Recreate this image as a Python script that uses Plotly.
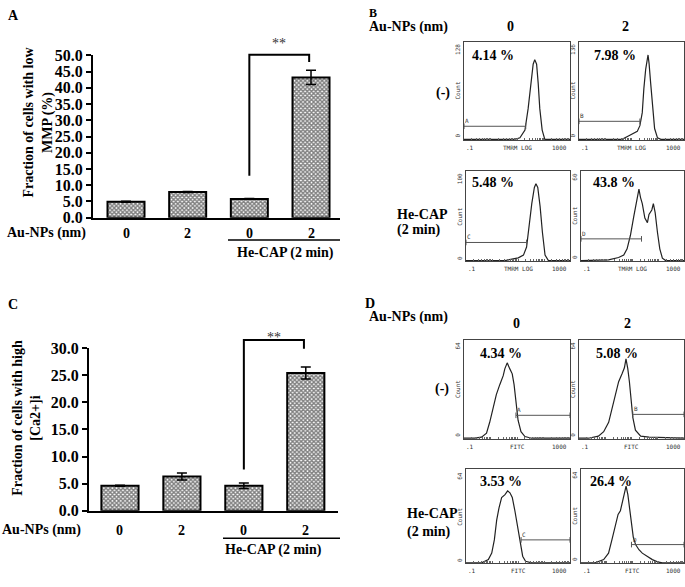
import plotly.graph_objects as go

W, H = 685, 587
SERIF = "Liberation Serif"
MONO = "DejaVu Sans Mono"

# ---------------- data: bar panels ----------------
group_labels = ["0", "2", "0", "2"]
a_values = [4.9, 7.9, 5.8, 43.2]
a_errors = [0.15, 0.15, 0.1, 2.2]
a_yticks = [0, 5, 10, 15, 20, 25, 30, 35, 40, 45, 50]
c_values = [4.6, 6.3, 4.6, 25.4]
c_errors = [0.1, 0.65, 0.5, 1.1]
c_yticks = [0, 5, 10, 15, 20, 25, 30]

# ---------------- data: flow histograms (log10 fluorescence, counts) ----------------
b_ctrl_0_log = [-1, 0.92, 1.11, 1.30, 1.42, 1.52, 1.61, 1.67, 1.74, 1.80, 1.86, 1.95, 2.05, 3.0]
b_ctrl_0_cnt = [1, 1, 3, 13, 41, 74, 99, 105, 99, 74, 41, 13, 1, 1]
b_ctrl_2_log = [-1, 0.64, 0.90, 1.09, 1.22, 1.32, 1.41, 1.47, 1.54, 1.63, 1.67, 1.73, 1.79, 1.88, 1.99, 2.12, 3.0]
b_ctrl_2_cnt = [1, 1, 6, 9, 12, 20, 38, 71, 98, 118, 106, 79, 48, 16, 3, 1, 1]
b_cap_0_log = [-1, 0.5, 1.01, 1.21, 1.33, 1.42, 1.53, 1.63, 1.69, 1.76, 1.85, 1.94, 2.04, 2.17, 3.0]
b_cap_0_cnt = [1, 1, 4, 7, 16, 39, 64, 82, 86, 82, 61, 32, 7, 1, 1]
b_cap_2_log = [-1, 0.07, 0.46, 0.66, 0.79, 0.92, 1.05, 1.18, 1.25, 1.31, 1.38, 1.48, 1.58, 1.64,
               1.75, 1.81, 1.88, 1.97, 2.06, 2.16, 2.29, 3.0]
b_cap_2_cnt = [0.5, 1, 2.6, 4.2, 8.4, 17.4, 30, 42.6, 48, 42.6, 38.4, 28.8, 25.8, 31.2,
               34.2, 38.4, 32.4, 19.2, 8.4, 2.2, 0.6, 0.6]
d_ctrl_0_log = [-1, -0.60, -0.34, -0.15, -0.03, 0.10, 0.22, 0.35, 0.48, 0.54, 0.63, 0.73, 0.82,
                0.89, 0.96, 1.04, 1.15, 1.30, 1.55, 3.0]
d_ctrl_0_cnt = [0.6, 0.6, 1.3, 3.8, 10.9, 20.5, 28.8, 35.2, 41, 45.4, 49.3, 45.4, 42.2,
                35.2, 23.7, 12.2, 4.8, 1.7, 0.6, 0.6]
d_ctrl_2_log = [-1, -0.64, -0.26, -0.06, 0.13, 0.26, 0.38, 0.51, 0.64, 0.73, 0.79, 0.86, 0.92,
                0.99, 1.05, 1.15, 1.35, 1.67, 3.0]
d_ctrl_2_cnt = [0.6, 0.6, 1.9, 4.8, 10.9, 20.5, 29.4, 37.1, 42.2, 46.1, 51.8, 45.4, 37.1,
                24.3, 14.1, 5.8, 1.9, 1.3, 0.6]
d_cap_0_log = [-1, -0.40, -0.14, -0.01, 0.09, 0.18, 0.27, 0.37, 0.50, 0.60, 0.69, 0.78, 0.88,
               0.99, 1.08, 1.18, 1.29, 1.53, 3.0]
d_cap_0_cnt = [0.4, 0.4, 2.6, 7, 16, 29.4, 37.8, 44.8, 46.7, 49.3, 48, 44.8, 35.8,
               25, 13.4, 4.9, 1.5, 0.4, 0.4]
d_cap_2_log = [-1, -0.45, -0.12, 0.07, 0.20, 0.31, 0.44, 0.53, 0.62, 0.70, 0.75, 0.82, 0.88,
               0.95, 1.03, 1.12, 1.25, 1.38, 1.58, 1.77, 1.97, 2.16, 3.0]
d_cap_2_cnt = [0.4, 0.4, 2.6, 7, 16, 25, 33.3, 35.8, 42.2, 48, 52.5, 46.7, 37.8,
               26.9, 17.9, 12.8, 9.3, 7, 4.9, 2.6, 1.1, 0.4, 0.4]

hist_ymax = [128, 136, 100, 60, 64, 64, 64, 64]
hist_percent = ["4.14 %", "7.98 %", "5.48 %", "43.8 %", "4.34 %", "5.08 %", "3.53 %", "26.4 %"]
# gate markers: start log10, end log10, count level
gate_start = [-1, -1, -1, -1, 0.96, 1.05, 1.12, 0.96]
gate_end = [1.33, 1.32, 1.33, 1.35, 3.0, 3.0, 3.0, 3.0]
gate_level = [18, 26, 21, 15, 15.4, 16, 16, 12.8]
gate_names = ["A", "B", "C", "D", "A", "B", "C", "D"]
hist_xtitle = ["TMRM LOG"] * 4 + ["FITC"] * 4

hist_logs = [b_ctrl_0_log, b_ctrl_2_log, b_cap_0_log, b_cap_2_log,
             d_ctrl_0_log, d_ctrl_2_log, d_cap_0_log, d_cap_2_log]
hist_cnts = [b_ctrl_0_cnt, b_ctrl_2_cnt, b_cap_0_cnt, b_cap_2_cnt,
             d_ctrl_0_cnt, d_ctrl_2_cnt, d_cap_0_cnt, d_cap_2_cnt]

# ---------------- layout geometry (pixels) ----------------
def pxx(x):
    return x / W

def pxy(y):
    return 1 - y / H

A_XR, A_YR = [-0.535, 3.47], [0, 50]
A_XD, A_YD = [pxx(93), pxx(340)], [pxy(216), pxy(48.7)]
C_XR, C_YR = [-0.5, 3.52], [0, 30]
C_XD, C_YD = [pxx(89), pxx(338)], [pxy(517.7), pxy(350.3)]

hist_boxes = [(464, 570, 35, 136), (579, 684, 35, 136), (466, 570, 168, 261), (581, 684, 168, 261),
              (464, 570, 342, 444), (579, 684, 342, 444), (466, 570, 475, 572), (581, 684, 475, 572)]


def lin(v, r, d):
    return d[0] + (v - r[0]) / (r[1] - r[0]) * (d[1] - d[0])


fig = go.Figure()
bold = dict(family=SERIF, size=14, color="black", weight="bold")
annotations = []
shapes = []

# ---------------- bar panels ----------------
pattern = dict(shape="x", size=3, solidity=0.7, fgcolor="black", bgcolor="white")
for vals, errs, ax in [(a_values, a_errors, ""), (c_values, c_errors, "2")]:
    fig.add_trace(go.Bar(
        x=list(range(len(vals))), y=vals, width=0.6,
        marker=dict(color="white", pattern=pattern, line=dict(color="black", width=2)),
        error_y=dict(type="data", array=errs, color="black", thickness=1.5, width=5),
        xaxis="x" + ax, yaxis="y" + ax, showlegend=False, hoverinfo="skip"))

layout_axes = {}
for ax, xr, yr, xd, yd, ticks in [("", A_XR, A_YR, A_XD, A_YD, a_yticks),
                                  ("2", C_XR, C_YR, C_XD, C_YD, c_yticks)]:
    layout_axes["xaxis" + ax] = dict(domain=xd, range=xr, showline=True, linecolor="black", linewidth=2,
                                     showticklabels=False, ticks="", showgrid=False, zeroline=False,
                                     anchor="y" + ax, fixedrange=True)
    layout_axes["yaxis" + ax] = dict(domain=yd, range=yr, showline=True, linecolor="black", linewidth=2,
                                     ticks="outside", ticklen=5, tickwidth=2, tickcolor="black",
                                     tickvals=ticks, tickformat=".1f", tickfont=dict(family=SERIF, size=16,
                                     color="black", weight="bold"), showgrid=False, zeroline=False,
                                     anchor="x" + ax, fixedrange=True)

# x-category labels and group annotations
for ax, ylab, yline, ycap, xline0, capx in [("", 232, 239, 252, 228, 285), ("2", 538, 546, 558, 223, 273)]:
    for i, g in enumerate(group_labels):
        annotations.append(dict(x=i, xref="x" + ax, y=pxy(ylab), yref="paper", text=g, showarrow=False,
                                font=bold, xanchor="center", yanchor="middle"))
    shapes.append(dict(type="line", xref="paper", yref="paper", x0=pxx(xline0), x1=pxx(340),
                       y0=pxy(yline), y1=pxy(yline), line=dict(color="black", width=1.5)))
    annotations.append(dict(x=pxx(capx), y=pxy(ycap), xref="paper", yref="paper", text="He-CAP (2 min)",
                            showarrow=False, font=bold, xanchor="center", yanchor="middle"))

annotations.append(dict(x=pxx(5), y=pxy(232), xref="paper", yref="paper", text="Au-NPs (nm)",
                        showarrow=False, font=bold, xanchor="left", yanchor="middle"))
annotations.append(dict(x=pxx(0), y=pxy(538), xref="paper", yref="paper", text="Au-NPs (nm)",
                        showarrow=False, font=bold, xanchor="left", yanchor="middle"))

# y titles
annotations.append(dict(x=pxx(38), y=pxy(118), xref="paper", yref="paper",
                        text="Fraction of cells with low<br>MMP (%)", showarrow=False, font=bold,
                        textangle=-90, xanchor="center", yanchor="middle"))
annotations.append(dict(x=pxx(27), y=pxy(422), xref="paper", yref="paper",
                        text="Fraction of cells with high<br>[Ca2+]i", showarrow=False, font=bold,
                        textangle=-90, xanchor="center", yanchor="middle"))

# significance brackets
for xr, yr, xd, yd, ylow, ytop, yright, ystar in [(A_XR, A_YR, A_XD, A_YD, 12.9, 50.2, 47.9, 37),
                                                  (C_XR, C_YR, C_XD, C_YD, 7.6, 31.5, 29.9, 339)]:
    x0, x1 = lin(2, xr, xd), lin(2.97, xr, xd)
    path = "M {:.5f} {:.5f} L {:.5f} {:.5f} L {:.5f} {:.5f} L {:.5f} {:.5f}".format(
        x0, lin(ylow, yr, yd), x0, lin(ytop, yr, yd), x1, lin(ytop, yr, yd), x1, lin(yright, yr, yd))
    shapes.append(dict(type="path", xref="paper", yref="paper", path=path,
                       line=dict(color="black", width=2)))
    annotations.append(dict(x=(x0 + x1) / 2, y=pxy(ystar), xref="paper", yref="paper", text="**",
                            showarrow=False, font=dict(family=SERIF, size=14, color="#333"),
                            xanchor="center", yanchor="middle"))

# ---------------- histogram panels ----------------
minor = []
for dec in [0.1, 1, 10, 100]:
    minor += [dec * k for k in range(1, 10)]
minor.append(1000)

small = dict(family=MONO, size=6, color="#333")
pct_pos = [(470, 49), (592, 49), (470, 180), (591, 180), (478, 356), (594, 356), (478, 488), (588, 488)]
for k in range(8):
    n = str(k + 3)
    x0p, x1p, y0p, y1p = hist_boxes[k]
    layout_axes["xaxis" + n] = dict(domain=[pxx(x0p), pxx(x1p)], type="log", range=[-1, 3], showline=True,
                                    mirror=True, linecolor="#444", linewidth=1, ticks="inside", ticklen=2,
                                    tickcolor="#666", tickvals=minor, showticklabels=False, showgrid=False,
                                    zeroline=False, anchor="y" + n, fixedrange=True)
    layout_axes["yaxis" + n] = dict(domain=[pxy(y1p), pxy(y0p)], range=[0, hist_ymax[k]], showline=True,
                                    mirror=True, linecolor="#444", linewidth=1, ticks="", showticklabels=False,
                                    showgrid=False, zeroline=False, anchor="x" + n, fixedrange=True)
    fig.add_trace(go.Scatter(x=[10 ** v for v in hist_logs[k]], y=hist_cnts[k], mode="lines",
                             line=dict(color="#222", width=1.2), xaxis="x" + n, yaxis="y" + n,
                             showlegend=False, hoverinfo="skip", cliponaxis=True))
    fig.add_trace(go.Scatter(x=[10 ** gate_start[k], 10 ** gate_end[k]], y=[gate_level[k]] * 2,
                             mode="lines+markers", line=dict(color="#555", width=1),
                             marker=dict(symbol="line-ns-open", size=4, color="#555", line=dict(width=1)),
                             xaxis="x" + n, yaxis="y" + n, showlegend=False, hoverinfo="skip",
                             cliponaxis=False))
    annotations.append(dict(x=gate_start[k] + 0.12, y=gate_level[k], xref="x" + n, yref="y" + n,
                            text=gate_names[k], showarrow=False, font=small, xanchor="center",
                            yanchor="bottom"))
    px_, py_ = pct_pos[k]
    annotations.append(dict(x=pxx(px_), y=pxy(py_), xref="paper", yref="paper", text=hist_percent[k],
                            showarrow=False, font=dict(family=SERIF, size=14, color="black", weight="bold"),
                            xanchor="left", yanchor="middle"))
    # axis small labels
    annotations.append(dict(x=pxx(x0p - 1), y=pxy(y0p), xref="paper", yref="paper", text=str(hist_ymax[k]),
                            showarrow=False, font=small, textangle=-90, xanchor="right", yanchor="top"))
    annotations.append(dict(x=pxx(x0p - 1), y=pxy((y0p + y1p) / 2), xref="paper", yref="paper", text="Count",
                            showarrow=False, font=small, textangle=-90, xanchor="right", yanchor="middle"))
    annotations.append(dict(x=pxx(x0p - 1), y=pxy(y1p), xref="paper", yref="paper", text="0",
                            showarrow=False, font=small, textangle=-90, xanchor="right", yanchor="bottom"))
    annotations.append(dict(x=pxx(x0p), y=pxy(y1p + 2), xref="paper", yref="paper", text=".1",
                            showarrow=False, font=small, xanchor="left", yanchor="top"))
    annotations.append(dict(x=pxx(x1p - 1), y=pxy(y1p + 2), xref="paper", yref="paper", text="1000",
                            showarrow=False, font=small, xanchor="right", yanchor="top"))
    annotations.append(dict(x=pxx((x0p + x1p) / 2), y=pxy(y1p + 2), xref="paper", yref="paper",
                            text=hist_xtitle[k], showarrow=False, font=small, xanchor="center", yanchor="top"))

# headers and row labels
def text_at(x, y, t, anchor="center", size=14):
    annotations.append(dict(x=pxx(x), y=pxy(y), xref="paper", yref="paper", text=t, showarrow=False,
                            font=dict(family=SERIF, size=size, color="black", weight="bold"),
                            xanchor=anchor, yanchor="middle"))

text_at(13, 8, "A")
text_at(373, 5, "B", size=12)
text_at(13, 305, "C")
text_at(370, 304, "D")
text_at(367, 20, "Au-NPs (nm)", "left")
text_at(510, 19, "0")
text_at(625, 19, "2")
text_at(443, 88, "(-)")
text_at(395, 213, "He-CAP", "left")
text_at(395, 229, "(2 min)", "left")
text_at(367, 318, "Au-NPs (nm)", "left")
text_at(516, 325, "0")
text_at(627, 325, "2")
text_at(442, 392, "(-)")
text_at(405, 521, "He-CAP", "left")
text_at(405, 540, "(2 min)", "left")

fig.update_layout(width=W, height=H, margin=dict(l=0, r=0, t=0, b=0), paper_bgcolor="white",
                  plot_bgcolor="white", showlegend=False, annotations=annotations, shapes=shapes,
                  bargap=0.4, **layout_axes)

fig.write_html("out.html", config={"displayModeBar": False},
               post_script="document.body.style.margin='0px';")
